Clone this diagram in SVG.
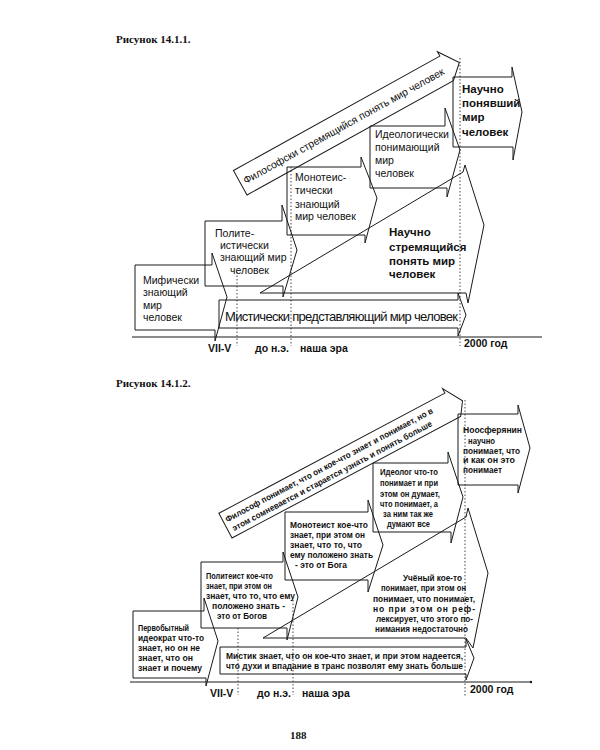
<svg xmlns="http://www.w3.org/2000/svg" width="600" height="750" viewBox="0 0 600 750">
<defs>
<style>
.s{fill:none;stroke:#1a1a1a;stroke-width:1;stroke-linejoin:miter}
.d{fill:none;stroke:#444;stroke-width:1;stroke-dasharray:1.5 2}
.ax{fill:none;stroke:#1a1a1a;stroke-width:1.2}
.t{font-family:'Liberation Sans',Arial,sans-serif;font-size:10.5px;fill:#111}
.tb{font-family:'Liberation Sans',Arial,sans-serif;font-weight:bold;font-size:11.5px;fill:#111}
.tm{font-family:'Liberation Sans',Arial,sans-serif;font-size:13px;fill:#111}
.l{font-family:'Liberation Sans',Arial,sans-serif;font-weight:bold;font-size:10.5px;fill:#111}
.b{font-family:'Liberation Sans',Arial,sans-serif;font-weight:bold;font-size:8.5px;fill:#111}
.h{font-family:'Liberation Serif','Times New Roman',serif;font-weight:bold;font-size:11px;fill:#111}
</style>
</defs>
<rect width="600" height="750" fill="#fff"/>

<!-- ===== Figure 14.1.1 ===== -->
<text class="h" x="116" y="43">Рисунок 14.1.1.</text>

<g id="timeline1">
<line class="ax" x1="132" y1="337" x2="542" y2="337"/>
<line class="d" x1="237" y1="272" x2="237" y2="346"/>
<line class="d" x1="291" y1="167" x2="291" y2="346"/>
<line class="d" x1="460" y1="58" x2="460" y2="346"/>
<text class="l" x="208" y="352">VII-V</text>
<text class="l" x="255" y="352">до н.э.</text>
<text class="l" x="300" y="352">наша эра</text>
<text class="l" x="464" y="347" font-size="11px">2000 год</text>
</g>

<g id="n1-mythic">
<polygon class="s" points="135,265 212,265 212,253 227,297 215,341 215,330 135,330"/>
<text class="t" x="143" y="284">Мифически</text>
<text class="t" x="143" y="296">знающий</text>
<text class="t" x="143" y="309">мир</text>
<text class="t" x="143" y="321">человек</text>
</g>

<g id="n1-polytheist">
<polygon class="s" points="205,221 282,221 282,205 297,250 283,297 283,286 205,286"/>
<text class="t" x="215" y="237">Полите-</text>
<text class="t" x="220" y="249">истически</text>
<text class="t" x="220" y="261">знающий мир</text>
<text class="t" x="230" y="274">человек</text>
</g>

<g id="n1-monotheist">
<polygon class="s" points="287,167 361,167 361,157 377,198 365,243 365,235 287,235"/>
<text class="t" x="295" y="181">Монотеис-</text>
<text class="t" x="295" y="194">тически</text>
<text class="t" x="295" y="208">знающий</text>
<text class="t" x="295" y="220">мир человек</text>
</g>

<g id="n1-ideological">
<polygon class="s" points="370,126 445,126 445,108 460,150 447,197 447,188 370,188"/>
<text class="t" x="375" y="138">Идеологически</text>
<text class="t" x="375" y="151">понимающий</text>
<text class="t" x="375" y="164">мир</text>
<text class="t" x="375" y="177">человек</text>
</g>

<g id="n1-scientific-understood">
<polygon class="s" points="453,77 512,77 512,67 522,112 513,160 513,147 453,147"/>
<text class="tb" x="462" y="93" font-size="11.5px">Научно</text>
<text class="tb" x="462" y="107" font-size="11.5px">понявший</text>
<text class="tb" x="462" y="121" font-size="11.5px">мир</text>
<text class="tb" x="462" y="136" font-size="11.5px">человек</text>
</g>

<g id="n1-philosophic" transform="translate(247,195) rotate(-29)">
<polygon class="s" points="0,0 0,-28 236,-28 236,-33 250,-13 236,0"/>
<text class="t" x="4" y="-10" font-size="11px" textLength="228">Философски стремящийся понять мир человек</text>
</g>

<g id="n1-scientific-striving">
<polygon class="s" points="260,293 463,172 465,165 484,225 468,303 466,293"/>
<text class="tb" x="389" y="236">Научно</text>
<text class="tb" x="389" y="251">стремящийся</text>
<text class="tb" x="389" y="265">понять мир</text>
<text class="tb" x="389" y="278">человек</text>
</g>

<g id="n1-mystic">
<polygon class="s" points="219,300 458,300 458,293 466,315 458,336 458,328 219,328"/>
<text class="tm" x="225" y="321" textLength="233">Мистически представляющий мир человек</text>
</g>

<!-- ===== Figure 14.1.2 ===== -->
<text class="h" x="116" y="387">Рисунок 14.1.2.</text>

<g id="timeline2">
<line class="ax" x1="130" y1="682" x2="530" y2="682"/>
<circle cx="531" cy="682" r="1.2" fill="#1a1a1a"/>
<line class="d" x1="238" y1="628" x2="238" y2="695"/>
<line class="d" x1="293" y1="600" x2="293" y2="695"/>
<line class="d" x1="465" y1="400" x2="465" y2="696"/>
<text class="l" x="210" y="697">VII-V</text>
<text class="l" x="257" y="697">до н.э.</text>
<text class="l" x="302" y="697">наша эра</text>
<text class="l" x="470" y="693" font-size="11px">2000 год</text>
</g>

<g id="n2-primitive">
<polygon class="s" points="133,611 204,611 204,598 218,641 206,686 206,678 133,678"/>
<text class="b" x="138" y="631" textLength="51" lengthAdjust="spacingAndGlyphs">Первобытный</text>
<text class="b" x="138" y="641" textLength="66" lengthAdjust="spacingAndGlyphs">идеократ что-то</text>
<text class="b" x="138" y="651" textLength="62" lengthAdjust="spacingAndGlyphs">знает, но он не</text>
<text class="b" x="138" y="661" textLength="55" lengthAdjust="spacingAndGlyphs">знает, что он</text>
<text class="b" x="138" y="671" textLength="64" lengthAdjust="spacingAndGlyphs">знает и почему</text>
</g>

<g id="n2-polytheist">
<polygon class="s" points="201,562 283,562 283,552 298,597 287,640 287,628 201,628"/>
<text class="b" x="206" y="579" textLength="67" lengthAdjust="spacingAndGlyphs">Политеист кое-что</text>
<text class="b" x="206" y="589" textLength="66" lengthAdjust="spacingAndGlyphs">знает, при этом он</text>
<text class="b" x="206" y="599" textLength="89" lengthAdjust="spacingAndGlyphs">знает, что то, что ему</text>
<text class="b" x="212" y="609" textLength="73" lengthAdjust="spacingAndGlyphs">положено знать -</text>
<text class="b" x="217" y="619" textLength="50" lengthAdjust="spacingAndGlyphs">это от Богов</text>
</g>

<g id="n2-monotheist">
<polygon class="s" points="285,512 368,512 368,500 383,545 368,592 368,580 285,580"/>
<text class="b" x="290" y="528" textLength="78" lengthAdjust="spacingAndGlyphs">Монотеист кое-что</text>
<text class="b" x="290" y="538" textLength="75" lengthAdjust="spacingAndGlyphs">знает, при этом он</text>
<text class="b" x="290" y="548" textLength="72" lengthAdjust="spacingAndGlyphs">знает, что то, что</text>
<text class="b" x="290" y="558" textLength="83" lengthAdjust="spacingAndGlyphs">ему положено знать</text>
<text class="b" x="295" y="568" textLength="52" lengthAdjust="spacingAndGlyphs">- это от Бога</text>
</g>

<g id="n2-ideologist">
<polygon class="s" points="373,463 448,463 448,452 463,497 451,543 451,532 373,532"/>
<text class="b" x="380" y="475" textLength="58" lengthAdjust="spacingAndGlyphs">Идеолог что-то</text>
<text class="b" x="380" y="486" textLength="58" lengthAdjust="spacingAndGlyphs">понимает и при</text>
<text class="b" x="380" y="497" textLength="60" lengthAdjust="spacingAndGlyphs">этом он думает,</text>
<text class="b" x="380" y="507" textLength="58" lengthAdjust="spacingAndGlyphs">что понимает, а</text>
<text class="b" x="383" y="517" textLength="50" lengthAdjust="spacingAndGlyphs">за ним так же</text>
<text class="b" x="387" y="527" textLength="43" lengthAdjust="spacingAndGlyphs">думают все</text>
</g>

<g id="n2-noosphere">
<polygon class="s" points="458,414 518,414 518,405 530,448 518,493 518,485 458,485"/>
<text class="b" x="463" y="433" textLength="59" lengthAdjust="spacingAndGlyphs">Ноосферянин</text>
<text class="b" x="468" y="444" textLength="27" lengthAdjust="spacingAndGlyphs">научно</text>
<text class="b" x="463" y="454" textLength="57" lengthAdjust="spacingAndGlyphs">понимает, что</text>
<text class="b" x="463" y="463" textLength="52" lengthAdjust="spacingAndGlyphs">и как он это</text>
<text class="b" x="463" y="473" textLength="39" lengthAdjust="spacingAndGlyphs">понимает</text>
</g>

<g id="n2-philosopher" transform="translate(232,538) rotate(-28)">
<polygon class="s" points="0,0 0,-28 256,-28 256,-33 268,-13 259,0"/>
<text class="b" x="3" y="-16" textLength="234" lengthAdjust="spacingAndGlyphs">Философ понимает, что он кое-что знает и понимает, но в</text>
<text class="b" x="5" y="-5" textLength="225" lengthAdjust="spacingAndGlyphs">этом сомневается и старается узнать и понять больше</text>
</g>

<g id="n2-scientist">
<polygon class="s" points="263,638 466,517 468,508 488,573 473,648 466,638"/>
<text class="b" x="403" y="581" textLength="59" lengthAdjust="spacingAndGlyphs">Учёный кое-то</text>
<text class="b" x="381" y="591" textLength="85" lengthAdjust="spacingAndGlyphs">понимает, при этом он</text>
<text class="b" x="373" y="602" textLength="102" lengthAdjust="spacingAndGlyphs">понимает, что понимает,</text>
<text class="b" x="373" y="612" textLength="102">но при этом он реф-</text>
<text class="b" x="376" y="622" textLength="97" lengthAdjust="spacingAndGlyphs">лексирует, что этого по-</text>
<text class="b" x="375" y="632" textLength="93" lengthAdjust="spacingAndGlyphs">нимания недостаточно</text>
</g>

<g id="n2-mystic">
<polygon class="s" points="220,647 466,647 466,639 474,658 466,680 466,674 220,674"/>
<text class="b" x="226" y="659" textLength="237" lengthAdjust="spacingAndGlyphs">Мистик знает, что он кое-что знает, и при этом надеется,</text>
<text class="b" x="226" y="669" textLength="237" lengthAdjust="spacingAndGlyphs">что духи и впадание в транс позволят ему знать больше</text>
</g>

<text class="h" x="290" y="739" font-size="12px">188</text>
</svg>
